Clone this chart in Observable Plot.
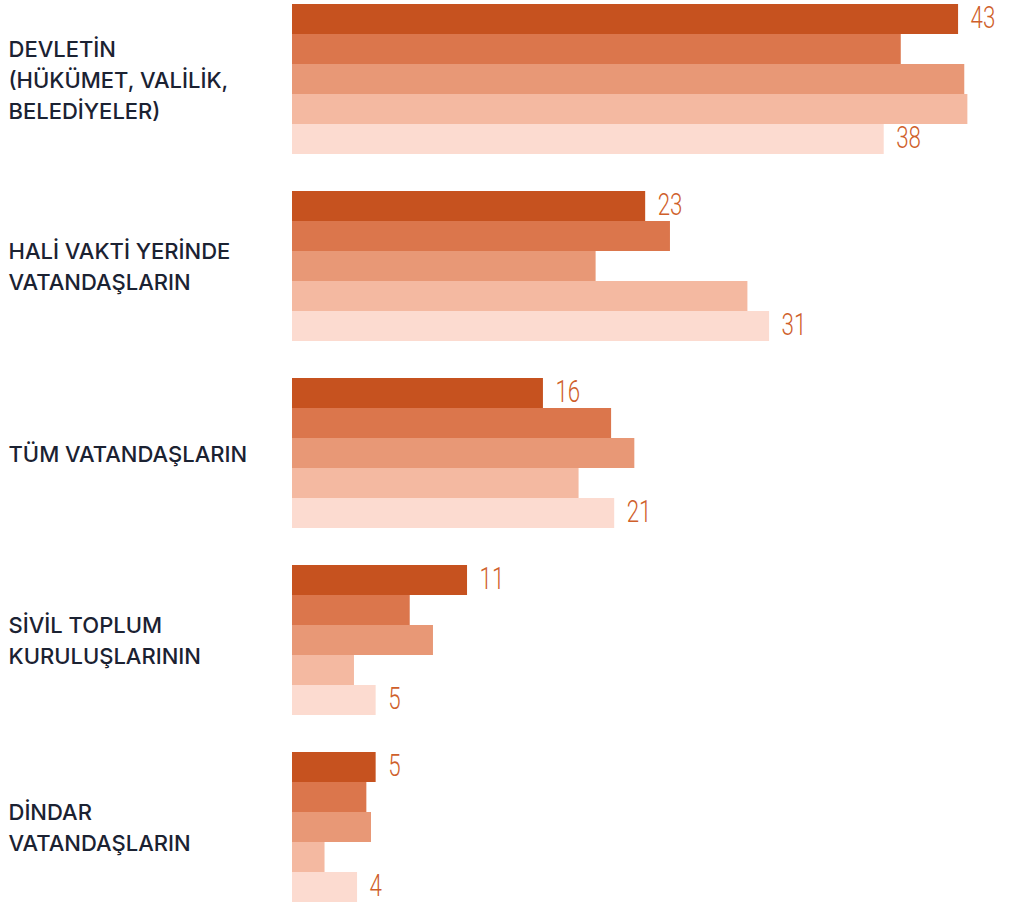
<!DOCTYPE html>
<html>
<head>
<meta charset="utf-8">
<script src="https://cdn.jsdelivr.net/npm/d3@7"></script>
<script src="https://cdn.jsdelivr.net/npm/@observablehq/plot@0.6"></script>
<style>
  html, body { margin: 0; padding: 0; background: #fff; }
  #chart svg { display: block; }
</style>
</head>
<body>
<div id="chart"></div>
<script>
const categories = [
  "DEVLETİN\n(HÜKÜMET, VALİLİK,\nBELEDİYELER)",
  "HALİ VAKTİ YERİNDE\nVATANDAŞLARIN",
  "TÜM VATANDAŞLARIN",
  "SİVİL TOPLUM\nKURULUŞLARININ",
  "DİNDAR\nVATANDAŞLARIN"
];
const series = ["Seri 1", "Seri 2", "Seri 3", "Seri 4", "Seri 5"];
const colors = ["#C6521F", "#DB764C", "#E89876", "#F4B9A1", "#FCDBD0"];

const serie1 = [43, 22.8, 16.2, 11.3, 5.4];
const serie2 = [39.3, 24.4, 20.6, 7.6, 4.8];
const serie3 = [43.4, 19.6, 22.1, 9.1, 5.1];
const serie4 = [43.6, 29.4, 18.5, 4.0, 2.1];
const serie5 = [38.2, 30.8, 20.8, 5.4, 4.2];
const seriesValues = [serie1, serie2, serie3, serie4, serie5];

const data = [];
categories.forEach((c, ci) => {
  series.forEach((s, si) => {
    data.push({category: c, series: s, value: seriesValues[si][ci]});
  });
});
const labeled = data.filter(d => d.series === series[0] || d.series === series[series.length - 1]);

const chart = Plot.plot({
  width: 1011,
  height: 903,
  marginLeft: 292,
  marginRight: 0,
  marginTop: 2,
  marginBottom: 1,
  x: {domain: [0, 719 / 15.49], axis: null},
  y: {domain: series, padding: 0, axis: null},
  fy: {domain: categories, paddingInner: 0.193, paddingOuter: 0, axis: null},
  color: {domain: series, range: colors},
  marks: [
    Plot.barX(data, {x: "value", y: "series", fy: "category", fill: "series"}),
    Plot.text(labeled, {
      x: "value", y: "series", fy: "category",
      text: d => String(Math.round(d.value)),
      textAnchor: "start", dx: 12, dy: -1,
      fill: "#CF5F2B",
      fontSize: 31,
      fontWeight: 300,
      fontFamily: "Roboto, 'Open Sans', sans-serif"
    }),
    Plot.text(categories, {
      fy: d => d,
      text: d => d,
      frameAnchor: "left",
      textAnchor: "start",
      dx: -284,
      dy: -1,
      lineHeight: 1.4,
      fill: "#1B2232",
      fontSize: 22,
      fontWeight: 500,
      fontFamily: "Inter, 'Open Sans', sans-serif"
    })
  ]
});
document.getElementById("chart").appendChild(chart);

// condense the value labels horizontally, keeping their positions
chart.querySelectorAll('g[font-size="31"] text').forEach(t => {
  const w = t.getComputedTextLength();
  t.setAttribute("textLength", (w * 0.72).toFixed(2));
  t.setAttribute("lengthAdjust", "spacingAndGlyphs");
});
</script>
</body>
</html>
